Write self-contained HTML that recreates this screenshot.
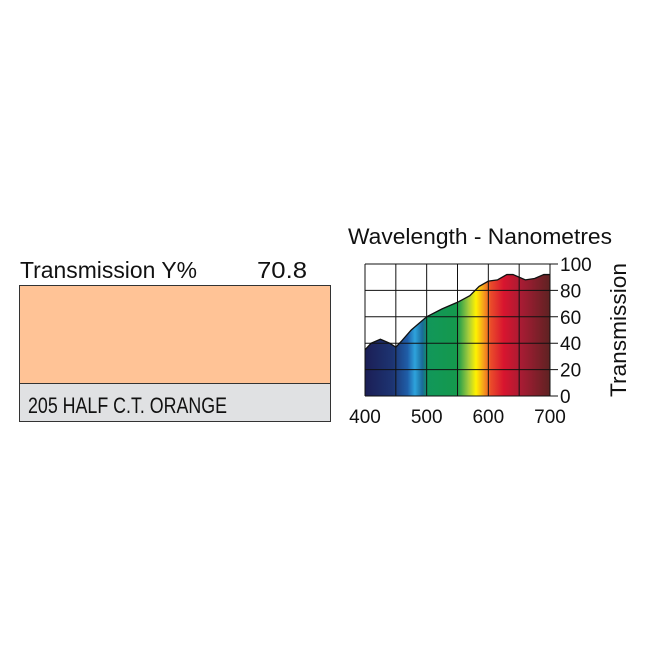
<!DOCTYPE html>
<html><head><meta charset="utf-8"><style>
body{margin:0;background:#fff;width:650px;height:650px;overflow:hidden;font-family:"Liberation Sans",sans-serif}
</style></head><body>
<svg width="650" height="650">
<defs>
<linearGradient id="spec" gradientUnits="userSpaceOnUse" x1="365" x2="550" y1="0" y2="0">
<stop offset="0" stop-color="#1b1e55"/><stop offset="0.15" stop-color="#1d3472"/>
<stop offset="0.23" stop-color="#1f5ea8"/><stop offset="0.27" stop-color="#2ea3dc"/>
<stop offset="0.31" stop-color="#1a6b9a"/><stop offset="0.34" stop-color="#11975a"/>
<stop offset="0.5" stop-color="#15994c"/><stop offset="0.56" stop-color="#a6cc3c"/>
<stop offset="0.6" stop-color="#fff200"/><stop offset="0.64" stop-color="#f6a01c"/>
<stop offset="0.68" stop-color="#ea4b2a"/><stop offset="0.75" stop-color="#d8152f"/>
<stop offset="0.85" stop-color="#a51c33"/><stop offset="1" stop-color="#5e2222"/>
</linearGradient>
</defs>
<text x="20" y="278" font-size="23" fill="#111" textLength="177" lengthAdjust="spacingAndGlyphs">Transmission Y%</text>
<text x="257" y="278" font-size="23" fill="#111" textLength="50" lengthAdjust="spacingAndGlyphs">70.8</text>
<rect x="19.5" y="285.5" width="311" height="98" fill="#ffc396" stroke="#333"/>
<rect x="19.5" y="383.5" width="311" height="38" fill="#e0e1e3" stroke="#333"/>
<text x="28" y="413" font-size="22" fill="#111" textLength="199" lengthAdjust="spacingAndGlyphs">205 HALF C.T. ORANGE</text>
<text x="348" y="244" font-size="22" fill="#111" textLength="264" lengthAdjust="spacingAndGlyphs">Wavelength - Nanometres</text>
<g id="chart"></g>
</svg>
<script>
const wavelengths=[400,410,425,440,450,460,475,500,525,550,570,585,600,615,630,640,660,675,690,700];
const transmission=[35,40,43,40,37,42,50,60,66,71,76,83,87,88,92,92,88,89,92,92];
const xTicks=[400,500,600,700];
const yTicks=[0,20,40,60,80,100];
const X0=365,X1=550,Y0=396,Y1=264;
const sx=w=>X0+(w-400)/300*(X1-X0);
const sy=v=>Y0-v/100*(Y0-Y1);
const NS="http://www.w3.org/2000/svg";
const g=document.getElementById('chart');
function mk(t,a){const e=document.createElementNS(NS,t);for(const k in a)e.setAttribute(k,a[k]);g.appendChild(e);return e;}
let d=`M${sx(wavelengths[0])},${Y0}`;
wavelengths.forEach((w,i)=>d+=` L${sx(w)},${sy(transmission[i])}`);
d+=` L${sx(700)},${Y0} Z`;
const area=mk('path',{d:d,fill:'url(#spec)'});


for(let w=400;w<=700;w+=50){const l=mk('line',{x1:sx(w),x2:sx(w),y1:Y1,y2:Y0,stroke:'#111','stroke-width':1});

}
yTicks.forEach(v=>{const l=mk('line',{x1:X0,x2:X1+8,y1:sy(v),y2:sy(v),stroke:'#111','stroke-width':1});


const t=mk('text',{x:X1+10,y:sy(v)+7,'font-size':19,fill:'#111'});t.textContent=v;

});
xTicks.forEach(w=>{const t=mk('text',{x:sx(w),y:Y0+27,'font-size':19,fill:'#111','text-anchor':'middle'});t.textContent=w;

});
const line=mk('polyline',{points:wavelengths.map((w,i)=>sx(w)+','+sy(transmission[i])).join(' '),fill:'none',stroke:'#111','stroke-width':1.3});


const yt=mk('text',{x:0,y:0,'font-size':22,fill:'#111','text-anchor':'middle',textLength:134,lengthAdjust:'spacingAndGlyphs',transform:'translate(626 330) rotate(-90)'});
yt.textContent='Transmission';


</script>
</body></html>
